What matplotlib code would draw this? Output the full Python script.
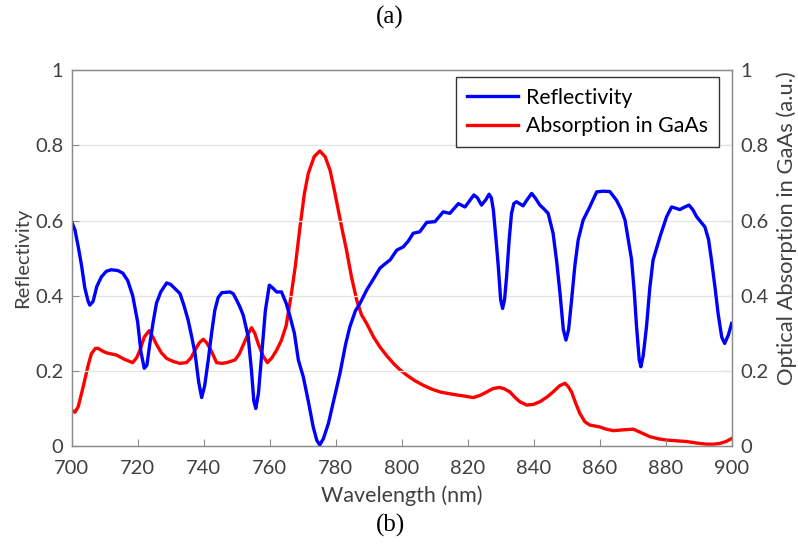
import matplotlib
matplotlib.use("Agg")
import matplotlib.pyplot as plt

# Reflectivity (blue)
refl_wl = [700, 701, 702, 703, 704, 705, 705.5, 706.5, 707.6, 709, 710.5, 712, 714, 715.5,
           717, 718.5, 720, 721, 722, 722.8, 723.7, 724.7, 725.7, 727, 728.8, 730, 731.3,
           732.8, 734, 735.3, 736.4, 737.4, 738.5, 739.4, 740.3, 741.4, 742.4, 743.4,
           744.4, 745.5, 748, 749, 750, 751, 752, 753.5, 754.5, 755.2, 755.8, 756.6,
           757.6, 758.7, 759.9, 761, 762.1, 763.6, 765, 766.2, 767.5, 768.7, 770.2, 771.7,
           773.2, 774.3, 775.2, 776.3, 777.8, 779.5, 781.3, 783, 784.3, 786, 787.4, 789.4,
           791.5, 793.4, 795, 796.5, 798.5, 800.5, 802, 803.5, 805.5, 807.6, 810.1, 812.6,
           814.6, 817.2, 819.2, 821.9, 823, 824.2, 825.5, 826.5, 827.2, 827.8, 828.6,
           829.3, 830, 830.6, 831.2, 831.8, 832.6, 833.3, 834, 834.8, 836.8, 838, 839.4,
           840.5, 841.9, 843, 844.4, 845.9, 847, 848, 849, 849.8, 850.6, 851.5, 852.5,
           853.5, 855, 857, 859.1, 861, 863.1, 865.1, 866.5, 867.7, 869.7, 870.5, 871.2,
           872, 872.5, 873.2, 874.2, 875.2, 876.2, 878.3, 880.3, 881.8, 883, 884.3, 885.8,
           887.1, 888.3, 889.4, 891.9, 893, 893.9, 895, 895.9, 897, 897.9, 899, 900]
refl = [0.597, 0.575, 0.53, 0.48, 0.42, 0.385, 0.375, 0.385, 0.424, 0.45, 0.465, 0.469,
        0.467, 0.46, 0.44, 0.40, 0.33, 0.25, 0.207, 0.215, 0.273, 0.33, 0.38, 0.41, 0.434,
        0.43, 0.419, 0.406, 0.375, 0.335, 0.29, 0.246, 0.17, 0.129, 0.16, 0.229, 0.30,
        0.362, 0.395, 0.408, 0.41, 0.405, 0.388, 0.37, 0.348, 0.291, 0.2, 0.12, 0.10,
        0.14, 0.246, 0.36, 0.428, 0.42, 0.41, 0.41, 0.38, 0.344, 0.30, 0.229, 0.184,
        0.12, 0.051, 0.015, 0.003, 0.02, 0.06, 0.125, 0.193, 0.27, 0.317, 0.36, 0.38,
        0.415, 0.445, 0.473, 0.485, 0.495, 0.521, 0.53, 0.545, 0.566, 0.57, 0.595, 0.597,
        0.623, 0.619, 0.645, 0.636, 0.668, 0.66, 0.641, 0.655, 0.67, 0.66, 0.628, 0.55,
        0.477, 0.39, 0.366, 0.39, 0.45, 0.55, 0.619, 0.645, 0.65, 0.639, 0.655, 0.672,
        0.66, 0.641, 0.632, 0.619, 0.566, 0.49, 0.406, 0.31, 0.282, 0.31, 0.388, 0.48,
        0.548, 0.601, 0.636, 0.676, 0.678, 0.677, 0.654, 0.63, 0.601, 0.495, 0.41, 0.317,
        0.23, 0.211, 0.24, 0.317, 0.42, 0.495, 0.557, 0.61, 0.636, 0.633, 0.629, 0.636,
        0.641, 0.628, 0.61, 0.583, 0.55, 0.495, 0.42, 0.353, 0.29, 0.273, 0.295, 0.326]

# Absorption in GaAs (red)
abs_wl = [700, 701, 702, 703.5, 705, 706, 707.2, 708, 709.5, 710.6, 713.6, 716.2, 718.5,
          719.7, 720.7, 722, 723.5, 724.6, 725.8, 727.2, 728.8, 730.8, 732.8, 734.8, 736.2,
          737.4, 738.7, 739.9, 740.9, 741.9, 743, 743.9, 745.5, 747, 749.5, 750.8, 752,
          753.3, 754.5, 755.5, 756.5, 758, 759.3, 760.7, 762.1, 763.5, 765, 766.5, 767.8,
          769.2, 770.5, 771.7, 773.5, 775.2, 776.8, 778.3, 779.5, 780.8, 782, 783.3, 784.8,
          786.4, 787.8, 789.4, 791.5, 793.4, 795.5, 797.5, 799.5, 801.5, 804, 806.5, 809,
          811.6, 814, 816.7, 819, 821.7, 823.8, 825.8, 827.7, 829.6, 831.2, 832.8, 834.3,
          835.8, 837.9, 840, 841.9, 844, 845.9, 847.8, 849.5, 850.5, 851.5, 852.7, 854,
          855.5, 857, 860, 862, 864.1, 867, 870.2, 872.5, 875.2, 878, 880.3, 883.3, 886.4,
          889.5, 892.4, 894.5, 896.4, 898.3, 900]
absorp = [0.096, 0.09, 0.105, 0.158, 0.215, 0.246, 0.26, 0.26, 0.252, 0.248, 0.242, 0.23,
          0.222, 0.235, 0.255, 0.29, 0.307, 0.29, 0.269, 0.248, 0.233, 0.225, 0.22, 0.222,
          0.235, 0.255, 0.275, 0.284, 0.275, 0.26, 0.24, 0.222, 0.22, 0.222, 0.229, 0.245,
          0.269, 0.295, 0.315, 0.30, 0.273, 0.24, 0.222, 0.235, 0.255, 0.28, 0.32, 0.40,
          0.48, 0.583, 0.67, 0.725, 0.77, 0.785, 0.77, 0.734, 0.685, 0.628, 0.575, 0.521,
          0.45, 0.388, 0.35, 0.326, 0.29, 0.264, 0.24, 0.22, 0.203, 0.189, 0.174, 0.162,
          0.152, 0.144, 0.14, 0.136, 0.133, 0.129, 0.135, 0.144, 0.153, 0.156, 0.152, 0.144,
          0.13, 0.118, 0.109, 0.111, 0.118, 0.13, 0.144, 0.16, 0.167, 0.158, 0.144, 0.115,
          0.087, 0.065, 0.056, 0.051, 0.045, 0.041, 0.043, 0.045, 0.036, 0.025, 0.019,
          0.016, 0.014, 0.012, 0.008, 0.005, 0.005, 0.007, 0.012, 0.02]

x_ticks = [700, 720, 740, 760, 780, 800, 820, 840, 860, 880, 900]
y_ticks = [0, 0.2, 0.4, 0.6, 0.8, 1]
y_tick_labels = ["0", "0.2", "0.4", "0.6", "0.8", "1"]

plt.rcParams['font.family'] = ['Lato', 'DejaVu Sans']
txt = '#404040'
spine = '#8c8c8c'
fs = 14.5

fig = plt.figure(figsize=(7.98, 5.48), dpi=100)
ax = fig.add_axes([0.0898, 0.186, 0.827, 0.686])
ax2 = ax.twinx()

# blue on top of red
ax.set_zorder(ax2.get_zorder() + 1)
ax.patch.set_visible(False)

l1, = ax.plot(refl_wl, refl, color='#0000ff', lw=2.4, label='Reflectivity')
l2, = ax2.plot(abs_wl, absorp, color='#ff0000', lw=2.4, label='Absorption in GaAs')

for a in (ax, ax2):
    a.set_xlim(700, 900)
    a.set_ylim(0, 1)
    a.set_yticks(y_ticks)
    a.set_yticklabels(y_tick_labels)
    a.tick_params(direction='in', colors=txt, labelsize=fs, length=5, width=0.8,
                  color=spine, pad=6)
    for s in a.spines.values():
        s.set_color(spine)
        s.set_linewidth(0.9)

ax.set_xticks(x_ticks)
ax.tick_params(axis='x', pad=10)
ax.grid(axis='y', color='#e3e3e3', lw=0.9)
ax.set_axisbelow(True)

ax.set_xlabel('Wavelength (nm)', color=txt, fontsize=15.5, labelpad=6)
ax.set_ylabel('Reflectivity', color=txt, fontsize=fs, labelpad=3)
ax2.set_ylabel('Optical Absorption in GaAs (a.u.)', color=txt, fontsize=15.8,
               va='center', rotation=90)
ax2.yaxis.set_label_coords(1.0835, 0.58)

leg = ax.legend(handles=[l1, l2], loc='upper right', bbox_to_anchor=(0.981, 0.982),
                fontsize=15.3, frameon=True, fancybox=False, edgecolor='black',
                handlelength=2.4, handletextpad=0.4, borderpad=0.5,
                borderaxespad=0, labelspacing=0.4)
leg.get_frame().set_linewidth(1.0)
for t in leg.get_texts():
    t.set_color('black')

fig.text(0.489, 0.968, '(a)', ha='center', va='center', fontsize=18, family='Liberation Serif')
fig.text(0.489, 0.042, '(b)', ha='center', va='center', fontsize=18, family='Liberation Serif')

fig.savefig('out.png', dpi=100)
